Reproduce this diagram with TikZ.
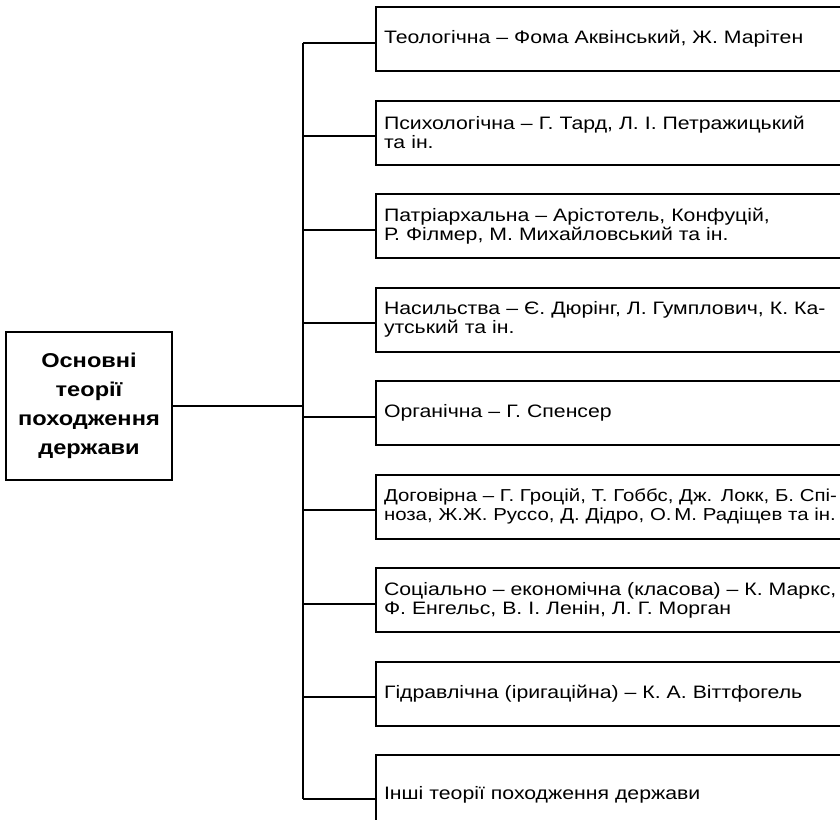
\documentclass[tikz,border=0pt]{standalone}
\usepackage{fontspec}
\setmainfont{Liberation Sans}[FakeStretch=1.18]
\usetikzlibrary{calc}

\tikzset{
  theory/.style={draw, line width=2pt, minimum height=64pt, text width=520pt,
    inner xsep=8pt, align=left, anchor=west, font=\fontsize{18}{19}\selectfont},
  rootbox/.style={draw, line width=2pt, minimum width=166pt, minimum height=148pt,
    align=center, font=\fontsize{20}{29}\selectfont\bfseries},
  link/.style={line width=2pt}
}

\begin{document}
\begin{tikzpicture}[x=1pt,y=-1pt]
  \useasboundingbox (0,0) rectangle (840,819);
  \clip (0,0) rectangle (840,819);
  % main box
  \node[rootbox] (root) at (89,406) {Основні\\теорії\\походження\\держави};
  \coordinate (trunk) at (303,406);
  % theories
  \node[theory] (t1) at (375,39) {Теологічна – Фома Аквінський, Ж. Марітен};
  \node[theory] (t2) at (375,132.5) {Психологічна – Г. Тард, Л. І. Петражицький\\та ін.};
  \node[theory] (t3) at (375,226) {Патріархальна – Арістотель, Конфуцій,\\Р. Філмер, М. Михайловський та ін.};
  \node[theory] (t4) at (375,319.5) {Насильства – Є. Дюрінг, Л. Гумплович, К. Ка-\\утський та ін.};
  \node[theory] (t5) at (375,413) {Органічна – Г. Спенсер};
  \node[theory, font=\fontsize{17.3}{19}\selectfont] (t6) at (375,506.5) {Договірна – Г. Гроцій, Т. Гоббс, Дж. Локк, Б. Спі-\\ноза, Ж.Ж. Руссо, Д. Дідро, О.\,М. Радіщев та ін.};
  \node[theory] (t7) at (375,600) {Соціально – економічна (класова) – К. Маркс,\\Ф. Енгельс, В. І. Ленін, Л. Г. Морган};
  \node[theory] (t8) at (375,693.5) {Гідравлічна (іригаційна) – К. А. Віттфогель};
  \node[theory, minimum height=80pt] (t9) at (375,795) {Інші теорії походження держави};
  % connectors
  \draw[link] (root.east) -- (trunk);
  \foreach \i in {1,...,9} {
    \coordinate (e\i) at ([yshift=-3.5pt]t\i.west);
    \draw[link] (trunk |- e\i) -- (e\i);
  }
  \draw[link] (trunk |- e1) -- (trunk |- e9);
\end{tikzpicture}
\end{document}
